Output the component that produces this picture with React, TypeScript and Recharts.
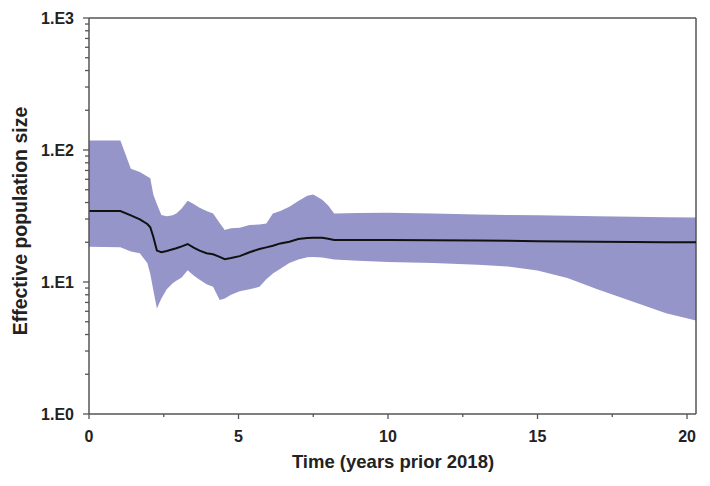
import { ComposedChart, Area, Line, XAxis, YAxis, ReferenceLine } from "recharts";

// years prior to 2018
const years = [
  0, 1.05, 1.4, 1.7, 1.95, 2.05, 2.15, 2.27, 2.42, 2.6, 2.8, 2.92, 3.1, 3.3, 3.5, 3.7, 3.93, 4.15, 4.37, 4.54,
  4.75, 5.04, 5.37, 5.7, 5.93, 6.15, 6.4, 6.7, 7.0, 7.3, 7.5, 7.8, 8.0, 8.2, 9, 10, 11.5, 13, 14, 15, 16, 17,
  18.2, 19.3, 20.3,
];

const lower95 = [
  18.5, 18.3, 17, 16.5, 13.9, 11.5, 8.7, 6.3, 7.5, 8.8, 9.8, 10.2, 10.8, 12.3, 11.2, 10.4, 9.6, 9.2, 7.3, 7.5,
  8.0, 8.5, 8.8, 9.2, 10.5, 11.6, 12.6, 13.9, 14.8, 15.4, 15.5, 15.3, 15.1, 14.8, 14.5, 14.2, 13.9, 13.5, 13.1,
  12.2, 10.7, 8.8, 7.1, 5.8, 5.1,
];

const median = [
  34.5, 34.5, 32, 29.8, 27.5, 26, 22, 17.3, 16.8, 17.2, 17.7, 18, 18.6, 19.4, 18.2, 17.3, 16.5, 16.2, 15.5, 14.9,
  15.2, 15.7, 16.8, 17.8, 18.3, 18.8, 19.6, 20.2, 21.2, 21.5, 21.6, 21.6, 21.3, 20.8, 20.8, 20.8, 20.7, 20.6,
  20.5, 20.4, 20.3, 20.2, 20.1, 20.0, 20.0,
];

const upper95 = [
  118, 118, 72, 68, 63, 61, 46, 39, 32.2, 31.5, 32, 33, 36, 41.3, 39, 36.5, 34.5, 33, 28, 24.8, 25.5, 25.8, 27,
  27.3, 27.8, 33, 34.5, 37.2, 41, 45, 46, 42, 38, 33, 33.3, 33.5, 33, 32.5, 32.2, 32, 31.8, 31.5, 31.2, 31, 30.8,
];

const xTicks = [0, 2.5, 5, 7.5, 10, 12.5, 15, 17.5, 20];
const xLabels = ["0", "5", "10", "15", "20"];
const yTicks = [1, 2, 3, 4, 5, 6, 7, 8, 9, 10, 20, 30, 40, 50, 60, 70, 80, 90, 100, 200, 300, 400, 500, 600, 700, 800, 900, 1000];
const yLabels: Record<number, string> = { 1: "1.E0", 10: "1.E1", 100: "1.E2", 1000: "1.E3" };

const data = years.map((t, i) => ({
  t,
  band: [lower95[i], upper95[i]],
  median: median[i],
}));

const FONT = "'Liberation Sans', Arial, Helvetica, sans-serif";
const AXIS = "#555";

const XTick = (props: any) => {
  const { x, y, payload } = props;
  const major = Number.isInteger(payload.value);
  return (
    <g>
      <line x1={x} x2={x} y1={y} y2={y + (major ? 5 : 3)} stroke={AXIS} strokeWidth={1.3} />
      {major && (
        <text x={x} y={y + 28} textAnchor="middle" fontFamily={FONT} fontWeight="bold" fontSize={16} fill="#222">
          {String(payload.value)}
        </text>
      )}
    </g>
  );
};

const YTick = (props: any) => {
  const { x, y, payload } = props;
  const label = yLabels[payload.value];
  return (
    <g>
      <line x1={x} x2={x - (label ? 6 : 4)} y1={y} y2={y} stroke={AXIS} strokeWidth={1.3} />
      {label && (
        <text x={x - 15} y={y} dy="0.36em" textAnchor="end" fontFamily={FONT} fontWeight="bold" fontSize={16} fill="#222">
          {label}
        </text>
      )}
    </g>
  );
};

const XTitle = () => (
  <text x={393} y={468} textAnchor="middle" fontFamily={FONT} fontWeight="bold" fontSize={18.5} fill="#222">
    Time (years prior 2018)
  </text>
);

const YTitle = () => (
  <text
    x={27}
    y={221}
    transform="rotate(-90, 27, 221)"
    textAnchor="middle"
    fontFamily={FONT}
    fontWeight="bold"
    fontSize={19.5}
    fill="#222"
  >
    Effective population size
  </text>
);

export default function App() {
  return (
    <div style={{ position: "absolute", left: 0, top: 0, background: "#fff" }}>
      <ComposedChart width={710} height={486} data={data} margin={{ top: 18, right: 14, bottom: 0, left: 0 }}>
        <XAxis
          dataKey="t"
          type="number"
          domain={[0, 20.3]}
          ticks={xTicks}
          interval={0}
          tick={<XTick />}
          tickLine={false}
          tickSize={0}
          tickMargin={0}
          height={72}
          axisLine={{ stroke: AXIS, strokeWidth: 1.5 }}
          allowDataOverflow
          label={XTitle}
        />
        <YAxis
          type="number"
          scale="log"
          domain={[1, 1000]}
          ticks={yTicks}
          interval={0}
          tick={<YTick />}
          tickLine={false}
          tickSize={0}
          tickMargin={0}
          width={89}
          axisLine={{ stroke: AXIS, strokeWidth: 1.5 }}
          allowDataOverflow
          label={YTitle}
        />
        <ReferenceLine y={1000} stroke={AXIS} strokeWidth={1.5} />
        <ReferenceLine x={20.3} stroke={AXIS} strokeWidth={1.5} />
        <Area
          dataKey="band"
          type="linear"
          fill="#9595c9"
          fillOpacity={1}
          stroke="none"
          isAnimationActive={false}
          activeDot={false}
        />
        <Line
          dataKey="median"
          type="linear"
          stroke="#111"
          strokeWidth={2}
          dot={false}
          activeDot={false}
          isAnimationActive={false}
        />
      </ComposedChart>
    </div>
  );
}
